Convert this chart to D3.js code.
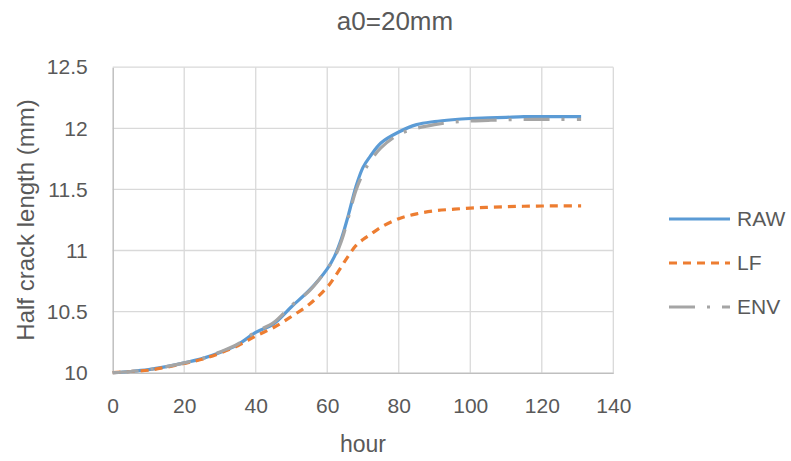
<!DOCTYPE html>
<html>
<head>
<meta charset="utf-8">
<script src="https://cdn.jsdelivr.net/npm/d3@7"></script>
<style>
  html, body { margin: 0; padding: 0; background: #fff; }
  svg { display: block; font-family: "Liberation Sans", Arial, sans-serif; }
</style>
</head>
<body>
<svg id="chart" width="791" height="461"></svg>
<script>
const hours = [0,5,10,15,20,25,30,35,40,45,50,55,60,62,64,66,68,70,72,75,80,85,90,95,100,105,110,115,120,125,131];
const rawValues = [10.00,10.01,10.025,10.05,10.08,10.115,10.165,10.23,10.33,10.40,10.54,10.675,10.85,10.95,11.10,11.30,11.52,11.68,11.77,11.88,11.97,12.03,12.055,12.07,12.08,12.085,12.09,12.095,12.095,12.095,12.095];
const lfValues = [10.00,10.01,10.02,10.045,10.075,10.11,10.16,10.22,10.30,10.37,10.46,10.56,10.70,10.78,10.87,10.96,11.04,11.09,11.13,11.19,11.26,11.30,11.325,11.337,11.347,11.353,11.358,11.362,11.364,11.365,11.365];
const envValues = [10.00,10.01,10.025,10.05,10.08,10.115,10.17,10.235,10.335,10.41,10.55,10.67,10.85,10.94,11.08,11.28,11.49,11.63,11.73,11.84,11.95,12.00,12.03,12.05,12.06,12.065,12.07,12.072,12.073,12.073,12.073];
const xTicks = [0,20,40,60,80,100,120,140];
const yTicks = [10,10.5,11,11.5,12,12.5];
const seriesNames = ["RAW","LF","ENV"];
const seriesColors = ["#5B9BD5","#ED7D31","#A5A5A5"];
const seriesDash = [null,"8,6","26,12,3,12"];
const titleText = "a0=20mm";
const xTitle = "hour";
const yTitle = "Half crack length (mm)";

const svg = d3.select("#chart");
const x = d3.scaleLinear().domain([0,140]).range([112.7,613.3]);
const y = d3.scaleLinear().domain([10,12.5]).range([372.7,67.2]);
const textColor = "#595959";

// gridlines
svg.append("g").selectAll("line.v").data(xTicks.slice(1)).join("line")
  .attr("x1", d => x(d)).attr("x2", d => x(d))
  .attr("y1", y(10)).attr("y2", y(12.5))
  .attr("stroke", "#d9d9d9").attr("stroke-width", 1.3);
svg.append("g").selectAll("line.h").data(yTicks.slice(1)).join("line")
  .attr("x1", x(0)).attr("x2", x(140))
  .attr("y1", d => y(d)).attr("y2", d => y(d))
  .attr("stroke", "#d9d9d9").attr("stroke-width", 1.3);

// axes
const xAxis = svg.append("g").attr("transform", `translate(0,${y(10)})`)
  .call(d3.axisBottom(x).tickValues(xTicks).tickSize(0).tickPadding(25).tickFormat(d3.format("d")));
xAxis.select(".domain").attr("stroke", "#bfbfbf").attr("stroke-width", 1.5);
xAxis.selectAll("text").attr("fill", textColor).attr("font-size", 21).attr("font-family", "Liberation Sans, Arial, sans-serif");

const yAxis = svg.append("g").attr("transform", `translate(${x(0)},0)`)
  .call(d3.axisLeft(y).tickValues(yTicks).tickSize(0).tickPadding(25).tickFormat(d => String(d)));
yAxis.select(".domain").attr("stroke", "#bfbfbf").attr("stroke-width", 1.5);
yAxis.selectAll("text").attr("fill", textColor).attr("font-size", 21).attr("font-family", "Liberation Sans, Arial, sans-serif");

// lines (series order: later series on top)
const allValues = [rawValues, lfValues, envValues];
const line = d3.line().x(d => x(d[0])).y(d => y(d[1])).curve(d3.curveCatmullRom.alpha(0.5));
[0, 1, 2].forEach(i => {
  const pts = hours.map((h, k) => [h, allValues[i][k]]);
  const p = svg.append("path").datum(pts)
    .attr("d", line)
    .attr("fill", "none")
    .attr("stroke", seriesColors[i])
    .attr("stroke-width", 3.2)
    .attr("stroke-linejoin", "round");
  if (seriesDash[i]) p.attr("stroke-dasharray", seriesDash[i]);
});

// titles
svg.append("text").attr("x", 395).attr("y", 30).attr("text-anchor", "middle")
  .attr("fill", textColor).attr("font-size", 26).text(titleText);
svg.append("text").attr("x", x(70)).attr("y", 452).attr("text-anchor", "middle")
  .attr("fill", textColor).attr("font-size", 23).text(xTitle);
svg.append("text").attr("transform", `translate(34,${(y(10)+y(12.5))/2}) rotate(-90)`)
  .attr("text-anchor", "middle").attr("fill", textColor).attr("font-size", 24).text(yTitle);

// legend
const legendY = [219, 263, 307];
seriesNames.forEach((name, i) => {
  const g = svg.append("g");
  const l = g.append("line").attr("x1", 669).attr("x2", 730)
    .attr("y1", legendY[i]).attr("y2", legendY[i])
    .attr("stroke", seriesColors[i]).attr("stroke-width", 3.2);
  if (seriesDash[i]) l.attr("stroke-dasharray", seriesDash[i]);
  g.append("text").attr("x", 737).attr("y", legendY[i]).attr("dy", "0.35em")
    .attr("fill", textColor).attr("font-size", 21).text(name);
});
</script>
</body>
</html>
